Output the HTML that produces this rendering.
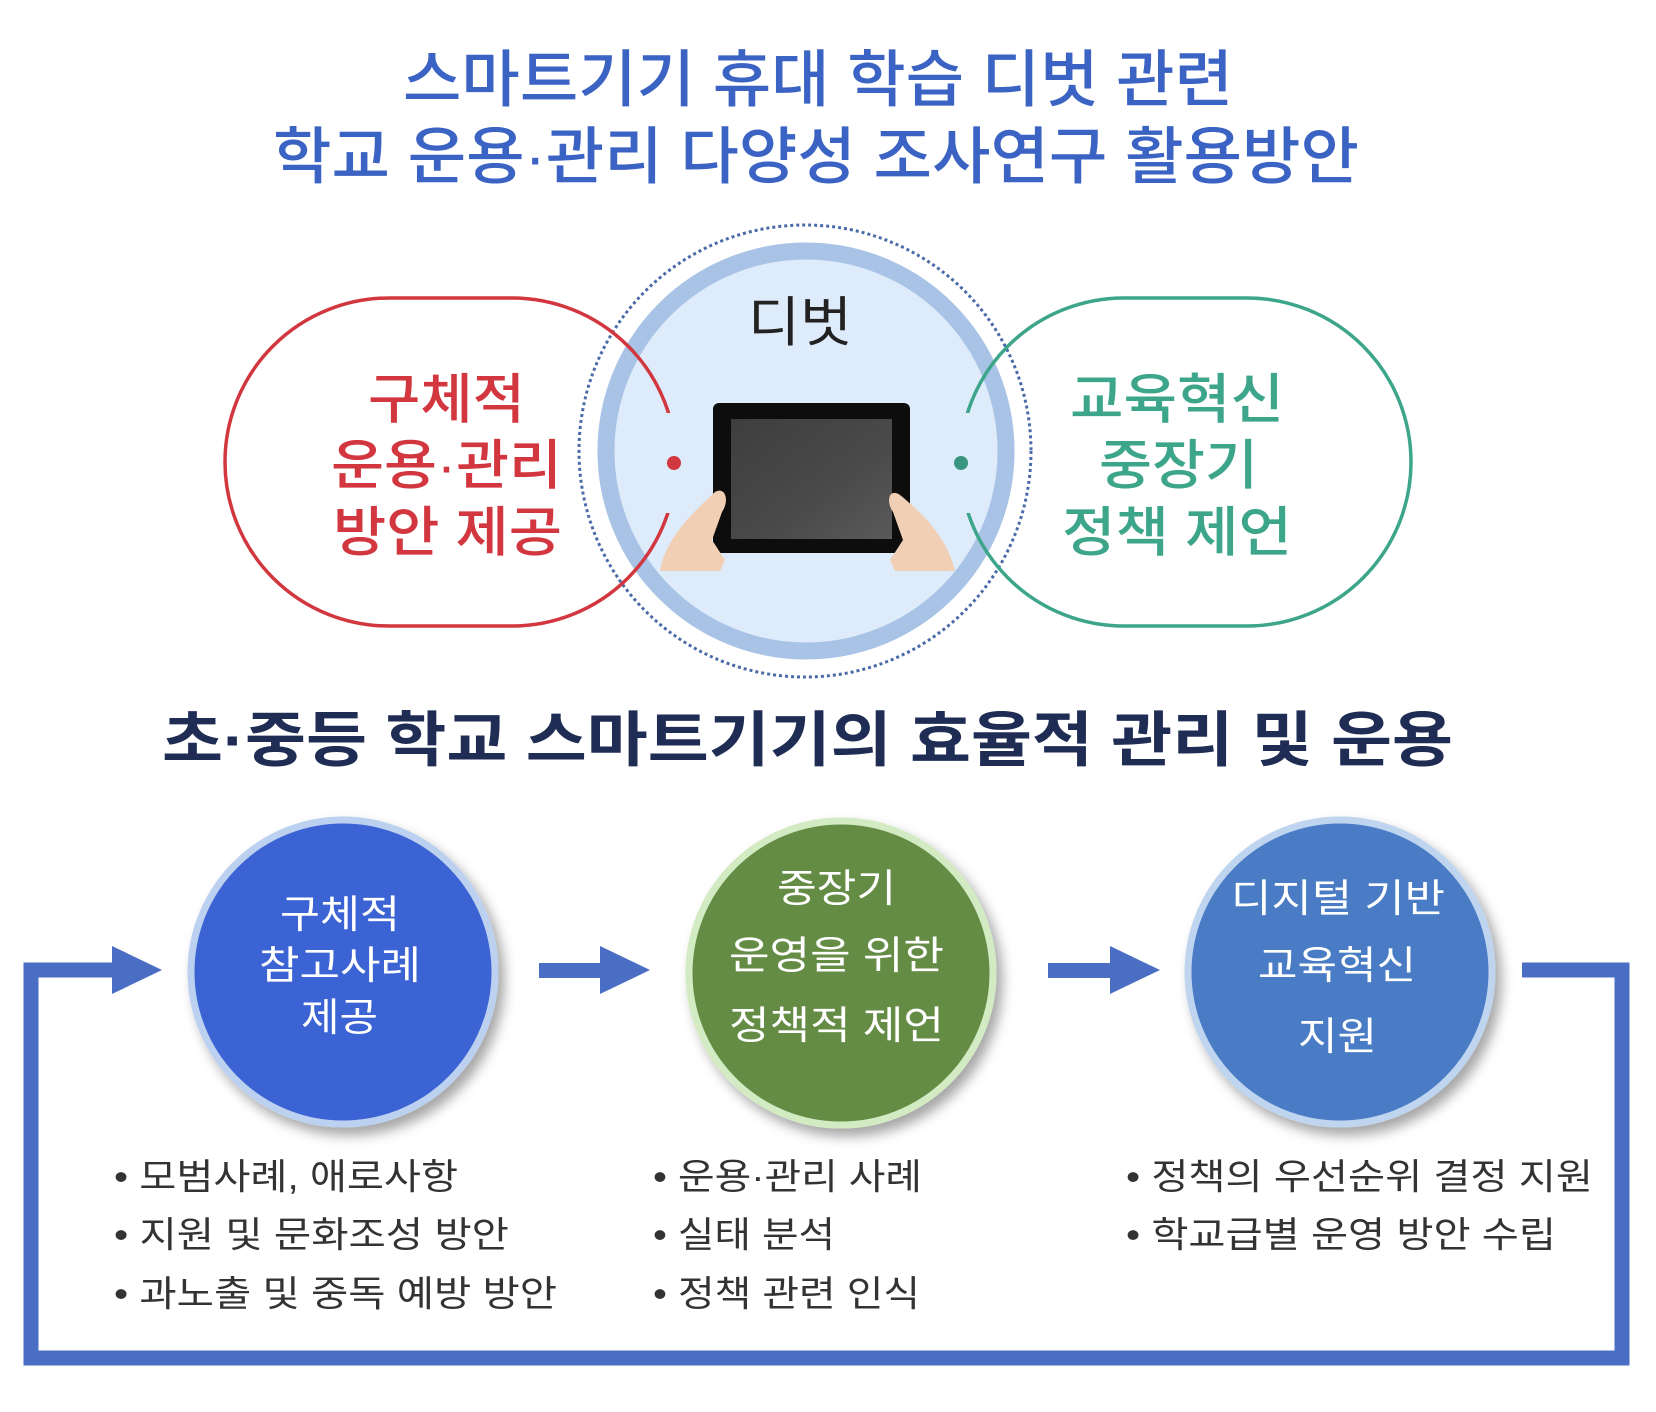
<!DOCTYPE html>
<html><head><meta charset="utf-8"><style>
html,body{margin:0;padding:0;background:#fff;}
svg{display:block;}
text{font-family:"Liberation Sans","Noto Sans CJK KR",sans-serif;}
</style></head><body>
<svg width="1656" height="1412" viewBox="0 0 1656 1412" xmlns="http://www.w3.org/2000/svg">
<defs>
<filter id="sh" x="-20%" y="-20%" width="150%" height="150%"><feDropShadow dx="6" dy="8" stdDeviation="6" flood-color="#000" flood-opacity="0.35"/></filter>
<linearGradient id="scr" x1="0" y1="0" x2="1" y2="1"><stop offset="0" stop-color="#3e3e3e"/><stop offset="0.6" stop-color="#4a4a4a"/><stop offset="1" stop-color="#5a5a5a"/></linearGradient>
</defs>
<!-- Titles -->
<text x="403" y="101" font-size="62" font-weight="500" fill="#3b63c4" textLength="830" lengthAdjust="spacingAndGlyphs">스마트기기 휴대 학습 디벗 관련</text>
<text x="273" y="178" font-size="62" font-weight="500" fill="#3b63c4" textLength="1086" lengthAdjust="spacingAndGlyphs">학교 운용·관리 다양성 조사연구 활용방안</text>

<!-- Center circle -->
<circle cx="805" cy="451" r="226" fill="none" stroke="#4a6aa8" stroke-width="3" stroke-dasharray="3 3"/>
<circle cx="806" cy="451" r="200" fill="#deebfb" stroke="#a8c3e6" stroke-width="17"/>

<!-- red and green shapes -->
<rect x="225" y="298" width="451" height="328" rx="164" fill="none" stroke="#d2373f" stroke-width="3.5"/>
<rect x="960" y="298" width="451" height="328" rx="164" fill="none" stroke="#3ca58a" stroke-width="3.5"/>
<rect x="655" y="413" width="30" height="100" fill="#deebfb"/>
<rect x="950" y="413" width="30" height="100" fill="#deebfb"/>
<circle cx="674" cy="463" r="7" fill="#d2373f"/>
<circle cx="961" cy="463" r="7" fill="#3a9580"/>

<text x="748" y="341" font-size="54" fill="#222" textLength="104" lengthAdjust="spacingAndGlyphs">디벗</text>

<!-- tablet -->
<rect x="713" y="403" width="197" height="150" rx="6" fill="#0d0d0d"/>
<rect x="731" y="419" width="161" height="120" fill="url(#scr)"/>
<path d="M660 571 C665 540 690 515 715 492 C725 486 730 500 722 512 L712 540 L725 560 L720 571 Z" fill="#f1cfb4"/>
<path d="M955 571 C948 540 925 515 900 495 C890 488 885 500 893 512 L903 540 L890 560 L895 571 Z" fill="#f1cfb4"/>

<text x="368" y="418" font-size="54" font-weight="500" fill="#d2373f" textLength="157" lengthAdjust="spacingAndGlyphs">구체적</text>
<text x="331" y="484" font-size="54" font-weight="500" fill="#d2373f" textLength="231" lengthAdjust="spacingAndGlyphs">운용·관리</text>
<text x="333" y="551" font-size="54" font-weight="500" fill="#d2373f" textLength="229" lengthAdjust="spacingAndGlyphs">방안 제공</text>

<text x="1070" y="418" font-size="54" font-weight="500" fill="#3ca58a" textLength="214" lengthAdjust="spacingAndGlyphs">교육혁신</text>
<text x="1099" y="484" font-size="54" font-weight="500" fill="#3ca58a" textLength="159" lengthAdjust="spacingAndGlyphs">중장기</text>
<text x="1062" y="551" font-size="54" font-weight="500" fill="#3ca58a" textLength="230" lengthAdjust="spacingAndGlyphs">정책 제언</text>

<!-- subtitle -->
<text x="162" y="761" font-size="60" font-weight="bold" fill="#1f2d55" textLength="1291" lengthAdjust="spacingAndGlyphs">초·중등 학교 스마트기기의 효율적 관리 및 운용</text>

<!-- loop -->
<path d="M1522 970 L1622 970 L1622 1358 L31 1358 L31 970 L118 970" fill="none" stroke="#4a6ec3" stroke-width="15"/>
<polygon points="112,946 162,970 112,994" fill="#4a6ec3"/>
<rect x="539" y="963" width="64" height="15" fill="#4a6ec3"/>
<polygon points="600,946 650,970 600,994" fill="#4a6ec3"/>
<rect x="1048" y="963" width="64" height="15" fill="#4a6ec3"/>
<polygon points="1110,946 1160,970 1110,994" fill="#4a6ec3"/>

<!-- circles -->
<circle cx="343" cy="972" r="152" fill="#3a64d4" stroke="#bcd0f0" stroke-width="7" filter="url(#sh)"/>
<circle cx="841" cy="973" r="152" fill="#658c45" stroke="#d2ebc2" stroke-width="7" filter="url(#sh)"/>
<circle cx="1340" cy="972" r="152" fill="#4a7cc4" stroke="#bfd4ef" stroke-width="7" filter="url(#sh)"/>

<g font-size="39" fill="#fff">
<text x="280" y="928" textLength="120" lengthAdjust="spacingAndGlyphs">구체적</text>
<text x="259" y="979" textLength="162" lengthAdjust="spacingAndGlyphs">참고사례</text>
<text x="301" y="1031" textLength="77" lengthAdjust="spacingAndGlyphs">제공</text>
<text x="777" y="902" textLength="119" lengthAdjust="spacingAndGlyphs">중장기</text>
<text x="729" y="969" textLength="215" lengthAdjust="spacingAndGlyphs">운영을 위한</text>
<text x="729" y="1039" textLength="215" lengthAdjust="spacingAndGlyphs">정책적 제언</text>
<text x="1231" y="912" textLength="214" lengthAdjust="spacingAndGlyphs">디지털 기반</text>
<text x="1258" y="979" textLength="158" lengthAdjust="spacingAndGlyphs">교육혁신</text>
<text x="1298" y="1050" textLength="79" lengthAdjust="spacingAndGlyphs">지원</text>
</g>

<!-- bullets -->
<g font-size="36" fill="#333">
<text x="114" y="1189" textLength="344" lengthAdjust="spacingAndGlyphs">• 모범사례, 애로사항</text>
<text x="114" y="1247" textLength="395" lengthAdjust="spacingAndGlyphs">• 지원 및 문화조성 방안</text>
<text x="114" y="1306" textLength="443" lengthAdjust="spacingAndGlyphs">• 과노출 및 중독 예방 방안</text>
<text x="653" y="1189" textLength="269" lengthAdjust="spacingAndGlyphs">• 운용·관리 사례</text>
<text x="653" y="1247" textLength="182" lengthAdjust="spacingAndGlyphs">• 실태 분석</text>
<text x="653" y="1306" textLength="267" lengthAdjust="spacingAndGlyphs">• 정책 관련 인식</text>
<text x="1126" y="1189" textLength="467" lengthAdjust="spacingAndGlyphs">• 정책의 우선순위 결정 지원</text>
<text x="1126" y="1247" textLength="430" lengthAdjust="spacingAndGlyphs">• 학교급별 운영 방안 수립</text>
</g>
</svg>
</body></html>
